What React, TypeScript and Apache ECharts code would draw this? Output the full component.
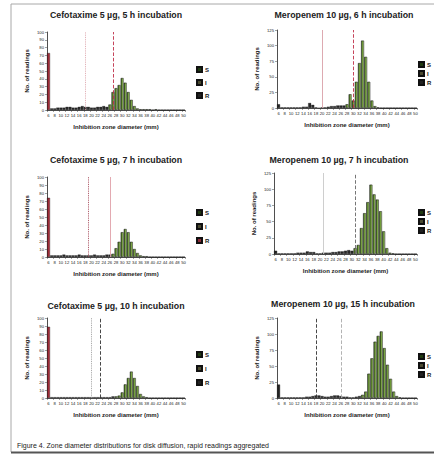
import React, { useEffect, useRef } from "react";
import * as echarts from "echarts";

const diameters = ["6","7","8","9","10","11","12","13","14","15","16","17","18","19","20","21","22","23","24","25","26","27","28","29","30","31","32","33","34","35","36","37","38","39","40","41","42","43","44","45","46","47","48","49","50"];

const titles = [
  "Cefotaxime 5 µg, 5 h incubation",
  "Meropenem 10 µg, 6 h incubation",
  "Cefotaxime 5 µg, 7 h incubation",
  "Meropenem 10 µg, 7 h incubation",
  "Cefotaxime 5 µg, 10 h incubation",
  "Meropenem 10 µg, 15 h incubation",
];

const cefotaxime5h = [73,2,2,3,3,3,4,4,3,3,4,5,4,4,3,3,4,4,5,4,7,23,28,32,41,35,23,13,5,2,1,1,1,1,0,1,0,0,0,0,0,0,0,0,0];
const meropenem6h = [6,1,1,1,1,1,1,1,2,2,8,5,1,0,1,1,2,3,3,4,4,4,6,22,12,42,72,108,82,42,12,3,1,0,0,0,0,0,0,0,0,0,0,0,0];
const cefotaxime7h = [74,2,2,2,2,3,2,2,2,2,3,2,2,2,2,3,2,2,2,3,3,4,11,19,31,35,31,19,10,5,2,1,1,0,0,0,0,0,0,0,0,0,0,0,0];
const meropenem7h = [5,1,1,1,1,1,1,2,2,2,4,3,3,1,1,2,2,2,3,3,4,4,5,6,5,9,14,40,63,80,107,92,84,66,35,9,2,1,0,0,0,0,0,0,0];
const cefotaxime10h = [89,1,1,1,1,1,1,1,1,1,1,1,1,1,1,1,1,1,1,1,1,2,2,3,7,17,25,33,25,15,5,2,1,0,0,0,0,0,0,0,0,0,0,0,0];
const meropenem15h = [21,1,1,1,1,1,1,1,1,2,2,3,4,4,3,2,2,3,4,4,3,2,2,1,1,2,3,5,10,38,62,88,97,104,78,52,30,10,3,1,0,0,0,0,0];

const legendNames = ["S", "I", "R"];
const caption = "Figure 4. Zone diameter distributions for disk diffusion, rapid readings aggregated";

const FONT = "'Liberation Sans', Arial, sans-serif";

const panels = [
  { values: cefotaxime5h, gStart: 20, yMax: 100, yInt: 10, redFirst: true, breaks: ["18", "27"], breakStyles: [["#dba0a8", "dotted"], ["#c0304a", "dashed"]], grid: { left: 47, top: 32, width: 138, height: 78 }, tx: 116, ty: 15, legend: { left: 196, top: 66, gap: 6 } },
  { values: meropenem6h, gStart: 22, yMax: 125, yInt: 25, redFirst: false, breaks: ["20", "30"], breakStyles: [["#d9a0a8", "solid"], ["#c0304a", "dashed"]], grid: { left: 277, top: 30, width: 140, height: 78 }, tx: 344, ty: 15, legend: { left: 418, top: 61, gap: 2 } },
  { values: cefotaxime7h, gStart: 21, yMax: 100, yInt: 10, redFirst: true, breaks: ["19", "26"], breakStyles: [["#a04050", "dotted"], ["#e0a0a8", "solid"]], grid: { left: 47, top: 177, width: 138, height: 80 }, tx: 116, ty: 160, legend: { left: 196, top: 209, gap: 7 } },
  { values: meropenem7h, gStart: 25, yMax: 125, yInt: 25, redFirst: false, breaks: ["21", "31"], breakStyles: [["#c8c8c8", "solid"], ["#666666", "dashed"]], grid: { left: 274, top: 173, width: 143, height: 81 }, tx: 339, ty: 160, legend: { left: 418, top: 209, gap: 2 } },
  { values: cefotaxime10h, gStart: 22, yMax: 100, yInt: 10, redFirst: true, breaks: ["20", "23"], breakStyles: [["#999999", "dotted"], ["#333333", "dashed"]], grid: { left: 47, top: 318, width: 138, height: 80 }, tx: 116, ty: 306, legend: { left: 196, top: 351, gap: 7 } },
  { values: meropenem15h, gStart: 27, yMax: 125, yInt: 25, redFirst: false, breaks: ["18", "26"], breakStyles: [["#333333", "dashed"], ["#aaaaaa", "dashed"]], grid: { left: 277, top: 318, width: 140, height: 80 }, tx: 343, ty: 304, legend: { left: 418, top: 353, gap: 2 } },
];

const greenFill = new echarts.graphic.LinearGradient(0, 0, 1, 0, [
  { offset: 0, color: "#2f5216" },
  { offset: 0.5, color: "#6f9a38" },
  { offset: 1, color: "#b8d88a" },
]);
const redFill = new echarts.graphic.LinearGradient(0, 0, 1, 0, [
  { offset: 0, color: "#7a1822" },
  { offset: 1, color: "#c8404f" },
]);

export default function App() {
  const ref = useRef<HTMLDivElement>(null);
  useEffect(() => {
    if (!ref.current) return;
    const chart = echarts.init(ref.current, undefined, { renderer: "svg" });
    const grid: any[] = [];
    const xAxis: any[] = [];
    const yAxis: any[] = [];
    const series: any[] = [];
    const legend: any[] = [];
    const graphic: any[] = [];

    panels.forEach((p, i) => {
      grid.push({ ...p.grid, containLabel: false });
      xAxis.push({
        type: "category",
        gridIndex: i,
        data: diameters,
        name: "Inhibition zone diameter (mm)",
        nameLocation: "middle",
        nameGap: 14,
        nameTextStyle: { fontSize: 6, fontFamily: FONT, color: "#222", fontWeight: "bold" },
        axisLine: { lineStyle: { color: "#222", width: 0.8 } },
        axisTick: { show: true, alignWithLabel: false, length: 2, lineStyle: { color: "#444", width: 0.5 } },
        axisLabel: { interval: 1, fontSize: 4.2, margin: 3, color: "#222", fontFamily: FONT, hideOverlap: false },
      });
      yAxis.push({
        type: "value",
        gridIndex: i,
        min: 0,
        max: p.yMax,
        interval: p.yInt,
        name: "No. of readings",
        nameLocation: "middle",
        nameRotate: 90,
        nameGap: 17,
        nameTextStyle: { fontSize: 6, fontFamily: FONT, color: "#222", fontWeight: "bold" },
        axisLine: { show: true, lineStyle: { color: "#222", width: 0.8 } },
        axisTick: { show: true, length: 2, lineStyle: { color: "#444", width: 0.5 } },
        splitLine: { show: false },
        axisLabel: { fontSize: 4.2, margin: 3, color: "#222", fontFamily: FONT },
      });
      const rVals = p.values.map((v, k) => (k === 0 ? v : "-"));
      const iVals = p.values.map((v, k) => (k > 0 && k < p.gStart ? v : "-"));
      const sVals = p.values.map((v, k) => (k >= p.gStart ? v : "-"));
      const common = { type: "bar", xAxisIndex: i, yAxisIndex: i, stack: "p" + i, barCategoryGap: "6%", silent: true };
      series.push({
        ...common,
        name: "R",
        data: rVals,
        itemStyle: { color: p.redFirst ? redFill : "#222", borderColor: "#111", borderWidth: 0.4 },
      });
      series.push({
        ...common,
        name: "I",
        data: iVals,
        itemStyle: { color: "#2a2a2a", borderColor: "#111", borderWidth: 0.3 },
      });
      series.push({
        ...common,
        name: "S",
        data: sVals,
        itemStyle: { color: greenFill, borderColor: "#111", borderWidth: 0.5 },
        markLine: {
          silent: true,
          symbol: "none",
          label: { show: false },
          data: p.breaks.map((b, k) => ({
            xAxis: b,
            lineStyle: { color: p.breakStyles[k][0], type: p.breakStyles[k][1], width: 0.9 },
          })),
        },
      });
      legend.push({
        orient: "vertical",
        left: p.legend.left,
        top: p.legend.top,
        padding: 0,
        itemWidth: 5,
        itemHeight: 5,
        itemGap: p.legend.gap,
        selectedMode: false,
        textStyle: { fontSize: 6, fontFamily: FONT, color: "#222", fontWeight: "bold", padding: [0, 0, 0, -2] },
        data: [
          { name: legendNames[0], icon: "rect", itemStyle: { color: "#1f3a10" } },
          { name: legendNames[1], icon: "rect", itemStyle: { color: "#4a4a30" } },
          { name: legendNames[2], icon: "rect", itemStyle: { color: i === 2 ? "#8a2a38" : "#222" } },
        ],
      });
      graphic.push({
        type: "text",
        x: p.tx,
        y: p.ty,
        style: { text: titles[i], align: "center", verticalAlign: "middle", fontSize: 8.8, fontWeight: "bold", fontFamily: FONT, fill: "#222" },
      });
    });

    graphic.push({ type: "line", shape: { x1: 11, y1: 4, x2: 434, y2: 4 }, style: { stroke: "#a8a8a8", lineWidth: 1 } });
    graphic.push({ type: "line", shape: { x1: 11, y1: 4, x2: 11, y2: 452 }, style: { stroke: "#a8a8a8", lineWidth: 1 } });
    graphic.push({ type: "line", shape: { x1: 11, y1: 452.5, x2: 434, y2: 452.5 }, style: { stroke: "#555", lineWidth: 2 } });
    graphic.push({
      type: "text",
      x: 17,
      y: 445,
      style: { text: caption, align: "left", verticalAlign: "middle", fontSize: 7, fontFamily: FONT, fill: "#222" },
    });

    chart.setOption({
      animation: false,
      backgroundColor: "#ffffff",
      grid,
      xAxis,
      yAxis,
      series,
      legend,
      graphic,
    });
    return () => chart.dispose();
  }, []);
  return <div ref={ref} style={{ position: "fixed", left: 0, top: 0, width: 434, height: 455 }} />;
}
